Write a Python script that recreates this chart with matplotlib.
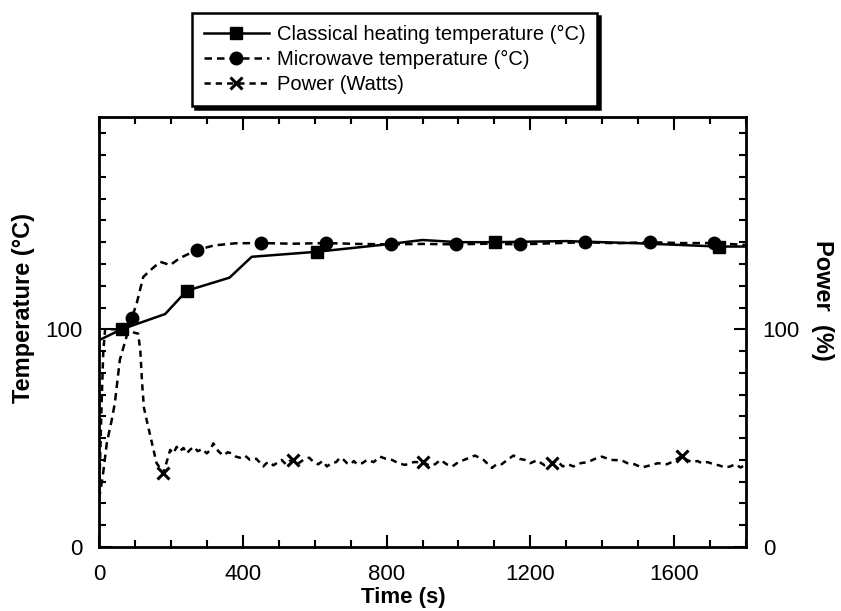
import matplotlib
matplotlib.use("Agg")
import matplotlib.pyplot as plt
from matplotlib.ticker import MultipleLocator

plt.rcParams['font.family'] = ['Liberation Sans', 'DejaVu Sans']

# --- data ---
class_t = [0, 63, 184, 244, 363, 425, 606, 800, 900, 1000, 1101, 1300, 1500, 1725, 1800]
class_T = [95, 100, 107, 117.7, 123.7, 133.3, 135.6, 139, 141, 140, 140, 140.5, 139.5, 138, 138]
class_marks = [63, 244, 606, 1101, 1725]

micro_t = [0, 10, 22, 35, 44, 58, 72, 91, 105, 114, 123, 142, 170, 198, 225, 272, 320, 380,
           451, 540, 632, 720, 812, 900, 993, 1080, 1171, 1260, 1352, 1440, 1533, 1620, 1711, 1800]
micro_T = [22, 32, 48, 58, 66, 86, 94, 105, 112, 118, 124, 127, 131, 129.5, 132.7, 136.4, 138.5, 139.5,
           139.6, 139.3, 139.6, 139.2, 139, 139.2, 139, 139.3, 139, 139.5, 140, 139.5, 140, 139.6, 139.6, 138.7]
micro_marks = [91, 272, 451, 632, 812, 993, 1171, 1352, 1533, 1711]

power_t = [0, 3, 8, 12, 17, 60, 109, 115, 120, 125, 133, 147, 160, 179, 190, 198, 207, 216, 225,
           235, 244, 253, 263, 275, 287, 300, 309, 318, 332, 346, 358, 370, 381, 392, 406, 420,
           438, 457, 466, 475, 485, 495, 508, 520, 530, 540, 550, 560, 572, 585, 597, 610, 622,
           634, 647, 660, 670, 681, 690, 700, 709, 718, 732, 746, 764, 782, 798, 815, 833, 851,
           876, 901, 918, 935, 950, 967, 983, 1000, 1023, 1046, 1070, 1093, 1106, 1120, 1136,
           1153, 1170, 1185, 1200, 1218, 1240, 1259, 1275, 1290, 1305, 1320, 1340, 1360, 1380,
           1399, 1425, 1454, 1470, 1490, 1510, 1533, 1555, 1580, 1600, 1621, 1635, 1650, 1665,
           1677, 1693, 1710, 1725, 1742, 1756, 1770, 1785, 1800]
power_P = [20, 40, 70, 90, 100, 100, 98, 90, 75, 64, 58, 48, 38.6, 34, 40, 44.6, 43, 46, 44,
           45.5, 43, 44.6, 46, 44, 45, 43, 44.5, 47.6, 44, 42, 43.5, 43, 41.5, 41, 42, 40,
           40.5, 37, 38.5, 39, 37.5, 38.6, 40, 38, 39.5, 40, 38, 39, 40.5, 41, 39, 38, 39.5,
           37, 38.5, 39, 41, 40, 38.5, 38, 39.5, 38, 38.5, 40, 39, 41.5, 40.5, 40, 38.5, 37.7,
           39, 39, 37.5, 38, 40, 38, 37, 39, 40.5, 42, 40, 36.3, 38, 38, 40,
           42, 40.5, 40, 38.5, 39.8, 37.5, 38.4, 39.5, 37, 38, 37, 38.5, 39, 40.5,
           41.5, 40, 39.8, 38.5, 38, 36.5, 37.5, 38.5, 38, 39.5, 41.8, 40, 39, 39.5,
           38.5, 39, 38, 37.5, 36.5, 37, 38, 36.5, 38]
power_marks = [179, 540, 901, 1259, 1621]

fig = plt.figure(figsize=(8.41, 6.11), dpi=100)
ax = fig.add_axes([99 / 841, 1 - 547 / 611, 647 / 841, 430 / 611])

ax.plot(class_t, class_T, color='black', linewidth=1.8, marker='s', markersize=9,
        markevery=[class_t.index(t) for t in class_marks],
        label='Classical heating temperature (°C)')
ax.plot(micro_t, micro_T, color='black', linewidth=1.8, linestyle=(0, (3, 2)), marker='o',
        markersize=9, markevery=[micro_t.index(t) for t in micro_marks],
        label='Microwave temperature (°C)')
ax.plot(power_t, power_P, color='black', linewidth=1.8, linestyle=(0, (2.5, 2)), marker='x',
        markersize=9, markeredgewidth=2.2, markevery=[power_t.index(t) for t in power_marks],
        label='Power (Watts)')

ax.set_xlim(0, 1800)
ax.set_ylim(0, 197.5)
ax.xaxis.set_major_locator(MultipleLocator(400))
ax.xaxis.set_minor_locator(MultipleLocator(100))
ax.yaxis.set_major_locator(MultipleLocator(100))
ax.yaxis.set_minor_locator(MultipleLocator(10))
ax.tick_params(which='both', direction='in', top=True, width=1.5, labelsize=16)
ax.tick_params(which='major', length=9)
ax.tick_params(which='minor', length=5)
ax.tick_params(axis='x', which='major', pad=12)
ax.tick_params(axis='y', which='major', pad=12)
for sp in ax.spines.values():
    sp.set_linewidth(2)

ax2 = ax.twinx()
ax2.set_ylim(ax.get_ylim())
ax2.yaxis.set_major_locator(MultipleLocator(100))
ax2.yaxis.set_minor_locator(MultipleLocator(10))
ax2.tick_params(which='both', direction='in', width=1.5, labelsize=16)
ax2.tick_params(which='major', length=9, pad=12)
ax2.tick_params(which='minor', length=5)

ax.set_xlabel('Time (s)', fontsize=16, fontweight='bold', va='center')
ax.xaxis.set_label_coords(0.47, -0.117)
ax.set_ylabel('Temperature (°C)', fontsize=17, fontweight='bold', va='center')
ax.yaxis.set_label_coords(-0.117, 0.556)
ax2.set_ylabel('Power  (%)', fontsize=17, fontweight='bold', rotation=270, va='center')
ax2.yaxis.set_label_coords(1.119, 0.574)

leg = fig.legend(loc='upper left', bbox_to_anchor=(192 / 841, 1 - 13 / 611), fontsize=14.5,
                 frameon=True, fancybox=False, shadow={'color': 'black', 'alpha': 1},
                 handlelength=3.2, handletextpad=0.4, labelspacing=0.3, borderpad=0.6,
                 edgecolor='black', borderaxespad=0)
leg.get_frame().set_linewidth(1.8)

fig.savefig('out.png', dpi=100)
